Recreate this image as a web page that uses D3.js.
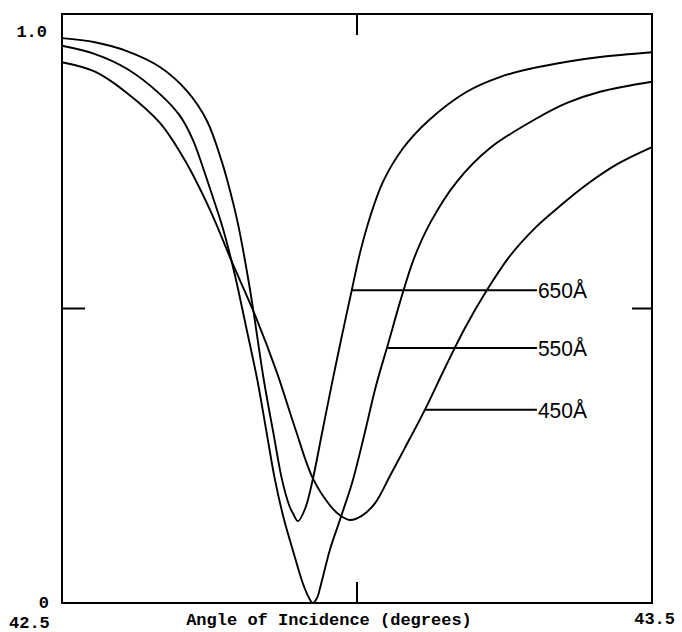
<!DOCTYPE html>
<html>
<head>
<meta charset="utf-8">
<script src="https://cdn.jsdelivr.net/npm/d3@7"></script>
<style>
  html, body { margin: 0; padding: 0; background: #fff; }
  svg { display: block; }
</style>
</head>
<body>
<svg id="chart" width="682" height="632"></svg>
<script>
// Reflectance vs. angle of incidence for three film thicknesses
const angle650 = [42.5, 42.556, 42.61, 42.666, 42.712, 42.746, 42.771, 42.78, 42.798, 42.816, 42.825, 42.842, 42.858, 42.873, 42.885, 42.892, 42.9, 42.912, 42.924, 42.941, 42.958, 42.973, 42.99, 43.005, 43.022, 43.044, 43.078, 43.12, 43.186, 43.242, 43.298, 43.356, 43.412, 43.5];
const refl650  = [0.959, 0.952, 0.937, 0.910, 0.869, 0.818, 0.749, 0.718, 0.645, 0.548, 0.492, 0.379, 0.290, 0.209, 0.166, 0.151, 0.139, 0.160, 0.205, 0.290, 0.375, 0.447, 0.526, 0.594, 0.655, 0.715, 0.772, 0.818, 0.868, 0.893, 0.908, 0.919, 0.927, 0.935];

const angle550 = [42.5, 42.556, 42.61, 42.666, 42.7, 42.722, 42.739, 42.756, 42.773, 42.793, 42.812, 42.831, 42.846, 42.861, 42.876, 42.892, 42.908, 42.919, 42.925, 42.932, 42.939, 42.954, 42.971, 42.992, 43.012, 43.032, 43.053, 43.075, 43.097, 43.125, 43.169, 43.225, 43.305, 43.356, 43.412, 43.5];
const refl550  = [0.946, 0.932, 0.907, 0.864, 0.827, 0.786, 0.739, 0.688, 0.635, 0.557, 0.469, 0.379, 0.294, 0.209, 0.143, 0.087, 0.034, 0.008, 0.0, 0.008, 0.032, 0.090, 0.141, 0.205, 0.284, 0.368, 0.441, 0.518, 0.586, 0.647, 0.715, 0.772, 0.823, 0.849, 0.868, 0.885];

const angle450 = [42.5, 42.556, 42.61, 42.666, 42.708, 42.751, 42.788, 42.827, 42.864, 42.895, 42.925, 42.954, 42.971, 42.988, 43.008, 43.031, 43.056, 43.081, 43.115, 43.149, 43.183, 43.22, 43.259, 43.302, 43.344, 43.386, 43.441, 43.5];
const refl450  = [0.918, 0.902, 0.866, 0.815, 0.752, 0.667, 0.579, 0.489, 0.392, 0.297, 0.212, 0.166, 0.149, 0.141, 0.148, 0.170, 0.216, 0.263, 0.328, 0.399, 0.467, 0.531, 0.589, 0.637, 0.674, 0.708, 0.745, 0.774];

// Label callouts: series name, point on curve where the leader starts
const labelNames  = ["650Å", "550Å", "450Å"];
const labelAngles = [42.991, 43.051, 43.115];
const labelRefl   = [0.531, 0.433, 0.328];
const labelEndAngle = 43.305;

const xDomain = [42.5, 43.5];
const yDomain = [0, 1];
const xTickLabels = ["42.5", "43.5"];
const yTickLabels = ["0", "1.0"];

const svg = d3.select("#chart");
const plotLeft = 62, plotRight = 652, plotTop = 14, plotBottom = 603;

const x = d3.scaleLinear().domain(xDomain).range([plotLeft, plotRight]);
const y = d3.scaleLinear().domain(yDomain).range([plotBottom, plotTop]);

const ink = "#000";

// Frame
svg.append("rect")
  .attr("x", plotLeft).attr("y", plotTop)
  .attr("width", plotRight - plotLeft).attr("height", plotBottom - plotTop)
  .attr("fill", "none").attr("stroke", ink).attr("stroke-width", 2);

// Mid ticks on each side
const tickLen = 21;
svg.append("line").attr("x1", x(43)).attr("x2", x(43)).attr("y1", plotTop).attr("y2", plotTop + tickLen)
  .attr("stroke", ink).attr("stroke-width", 2);
svg.append("line").attr("x1", x(43)).attr("x2", x(43)).attr("y1", plotBottom).attr("y2", plotBottom - tickLen)
  .attr("stroke", ink).attr("stroke-width", 2);
svg.append("line").attr("x1", plotLeft).attr("x2", plotLeft + 23).attr("y1", y(0.5)).attr("y2", y(0.5))
  .attr("stroke", ink).attr("stroke-width", 2);
svg.append("line").attr("x1", plotRight).attr("x2", plotRight - 20).attr("y1", y(0.5)).attr("y2", y(0.5))
  .attr("stroke", ink).attr("stroke-width", 2);

// Curves
const line = d3.line()
  .x(d => x(d[0]))
  .y(d => y(d[1]))
  .curve(d3.curveCatmullRom.alpha(0.5));

const series = [
  d3.zip(angle650, refl650),
  d3.zip(angle550, refl550),
  d3.zip(angle450, refl450)
];

svg.append("g").selectAll("path")
  .data(series)
  .join("path")
  .attr("d", line)
  .attr("fill", "none")
  .attr("stroke", ink)
  .attr("stroke-width", 1.9)
  .attr("stroke-linejoin", "round");

// Leader lines and labels
const labels = svg.append("g");
labelNames.forEach((name, i) => {
  labels.append("line")
    .attr("x1", x(labelAngles[i])).attr("x2", x(labelEndAngle))
    .attr("y1", y(labelRefl[i])).attr("y2", y(labelRefl[i]))
    .attr("stroke", ink).attr("stroke-width", 2);
  labels.append("text")
    .attr("x", x(labelEndAngle) + 1)
    .attr("y", y(labelRefl[i]) + 8)
    .attr("font-family", "'Liberation Sans Narrow', 'Liberation Sans', Arial, sans-serif")
    .attr("font-size", 22)
    .attr("textLength", 49)
    .attr("lengthAdjust", "spacingAndGlyphs")
    .attr("fill", ink)
    .text(name);
});

// Axis text
const axisFont = "'Liberation Mono', 'DejaVu Sans Mono', monospace";
function axisText(str, xp, yp, anchor) {
  svg.append("text")
    .attr("x", xp).attr("y", yp)
    .attr("text-anchor", anchor)
    .attr("font-family", axisFont)
    .attr("font-weight", "bold")
    .attr("font-size", 17)
    .attr("fill", ink)
    .text(str);
}
axisText(yTickLabels[1], 47, 37, "end");
axisText(yTickLabels[0], 49, 608, "end");
axisText(xTickLabels[0], 9, 628, "start");
axisText(xTickLabels[1], 675, 624, "end");
axisText("Angle of Incidence (degrees)", 329, 625, "middle");
</script>
</body>
</html>
